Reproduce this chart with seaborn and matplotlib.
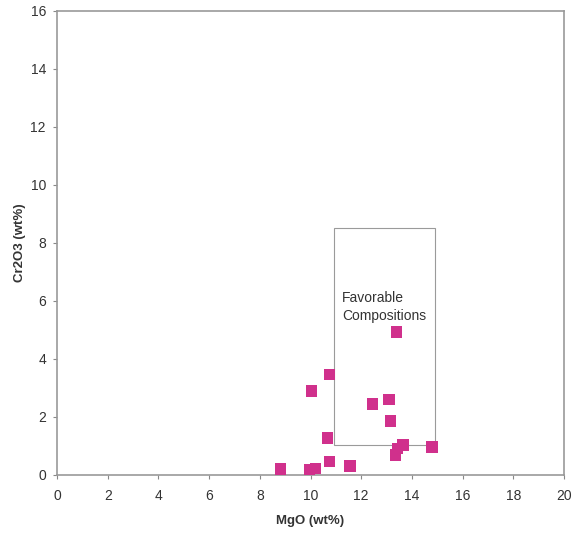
import matplotlib
matplotlib.use("Agg")
import matplotlib.pyplot as plt
import seaborn as sns
import pandas as pd
from matplotlib.patches import Rectangle

mgo = [8.82, 9.96, 10.2, 10.75, 11.57, 10.67, 10.04, 10.75, 12.44, 13.1, 13.15, 13.39, 13.35, 13.43, 13.66, 14.8]
cr2o3 = [0.2, 0.17, 0.22, 0.47, 0.32, 1.28, 2.9, 3.46, 2.45, 2.6, 1.86, 4.93, 0.68, 0.92, 1.04, 0.97]
xticks = list(range(0, 21, 2))
yticks = list(range(0, 17, 2))
box = (10.94, 1.04, 14.92, 8.53)
label = "Favorable\nCompositions"

df = pd.DataFrame({"MgO": mgo, "Cr2O3": cr2o3})

sns.set_style("white")
plt.rcParams['font.family'] = ['Liberation Sans', 'DejaVu Sans']

fig = plt.figure(figsize=(5.72, 5.35), dpi=100)
ax = fig.add_axes([57/572, 60/535, (564-57)/572, (475-11)/535])

sns.scatterplot(data=df, x="MgO", y="Cr2O3", ax=ax, marker="s", s=70,
                color="#d0308c", edgecolor="none", zorder=3)

ax.add_patch(Rectangle((box[0], box[1]), box[2]-box[0], box[3]-box[1],
                       fill=False, edgecolor="#9a9a9a", linewidth=0.8, zorder=2))
ax.text(11.25, 5.8, label, fontsize=10, color="#333333", va="center", ha="left",
        linespacing=1.35)

ax.set_xlim(0, 20)
ax.set_ylim(0, 16)
ax.set_xticks(xticks)
ax.set_yticks(yticks)
ax.tick_params(axis="x", direction="out", length=3, width=0.8, color="#888888",
               labelsize=10, labelcolor="#333333", pad=7, bottom=True)
ax.tick_params(axis="y", direction="out", length=3, width=0.8, color="#888888",
               labelsize=10, labelcolor="#333333", pad=5, left=True)
for sp in ax.spines.values():
    sp.set_color("#999999")
    sp.set_linewidth(1.2)
ax.set_xlabel("MgO (wt%)", fontsize=9.5, fontweight="bold", color="#333333")
ax.set_ylabel("Cr2O3 (wt%)", fontsize=9.5, fontweight="bold", color="#333333")
ax.xaxis.set_label_coords(0.5, -0.087)
ax.yaxis.set_label_coords(-0.061, 0.5)

fig.savefig("out.png", dpi=100, facecolor="white")
